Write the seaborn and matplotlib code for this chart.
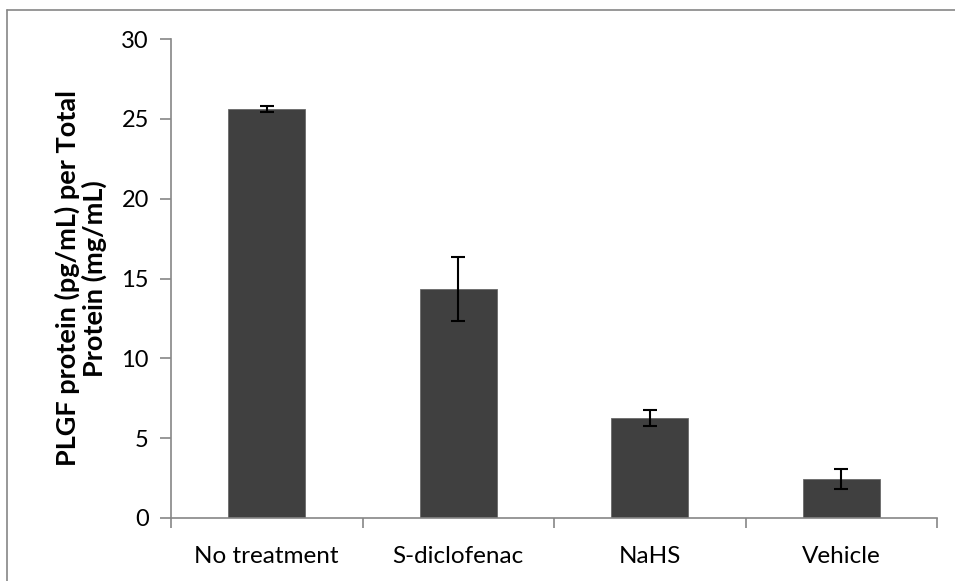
import matplotlib
matplotlib.use("Agg")
import matplotlib.pyplot as plt
import seaborn as sns
import pandas as pd
from matplotlib.lines import Line2D

categories = ["No treatment", "S-diclofenac", "NaHS", "Vehicle"]
values = [25.6, 14.35, 6.27, 2.45]
errors = [0.2, 2.0, 0.49, 0.62]
yticks = [0, 5, 10, 15, 20, 25, 30]
ylabel = "PLGF protein (pg/mL) per Total\nProtein (mg/mL)"

sns.set_theme(style="white")
plt.rcParams['font.family'] = ['Lato', 'DejaVu Sans']

df = pd.DataFrame({"cat": categories, "val": values})

fig = plt.figure(figsize=(9.55, 5.81), dpi=100)
ax = fig.add_axes([171/955, 1-518/581, (937-171)/955, (518-39)/581])

sns.barplot(data=df, x="cat", y="val", color="#404040", saturation=1,
            width=0.4, errorbar=None, ax=ax, edgecolor="#6a6a6a", linewidth=0.6)
ax.errorbar(range(len(categories)), values, yerr=errors, fmt="none",
            ecolor="black", elinewidth=1.5, capsize=5, capthick=1.5)

ax.set_xlim(-0.5, len(categories) - 0.5)
ax.set_ylim(0, 30)
ax.set_yticks(yticks)
ax.set_yticklabels([str(t) for t in yticks], fontsize=17, color="black")

# category labels at centers (minor), tick marks at boundaries (major)
ax.set_xticks([i - 0.5 for i in range(len(categories) + 1)])
ax.set_xticklabels([])
ax.set_xticks(range(len(categories)), minor=True)
ax.set_xticklabels(categories, minor=True, fontsize=17.5, color="black")
ax.tick_params(axis="x", which="major", direction="out", length=7, width=1.2,
               color="#868686", bottom=True)
ax.tick_params(axis="x", which="minor", length=0, pad=20)
ax.tick_params(axis="y", direction="out", length=8, width=1.2,
               color="#868686", left=True, pad=8)

for s in ["top", "right"]:
    ax.spines[s].set_visible(False)
for s in ["left", "bottom"]:
    ax.spines[s].set_color("#868686")
    ax.spines[s].set_linewidth(1.2)

ax.set_xlabel("")
ax.set_ylabel(ylabel, fontsize=19.5, fontweight="bold", labelpad=10, color="black",
              linespacing=1.1)

# outer chart-area frame (left and top edges visible)
fig.add_artist(Line2D([7/955, 7/955], [0, 1-10/581], transform=fig.transFigure,
                      color="#868686", linewidth=1.2))
fig.add_artist(Line2D([7/955, 1], [1-10/581, 1-10/581], transform=fig.transFigure,
                      color="#868686", linewidth=1.2))

fig.savefig("out.png", dpi=100, facecolor="white")
